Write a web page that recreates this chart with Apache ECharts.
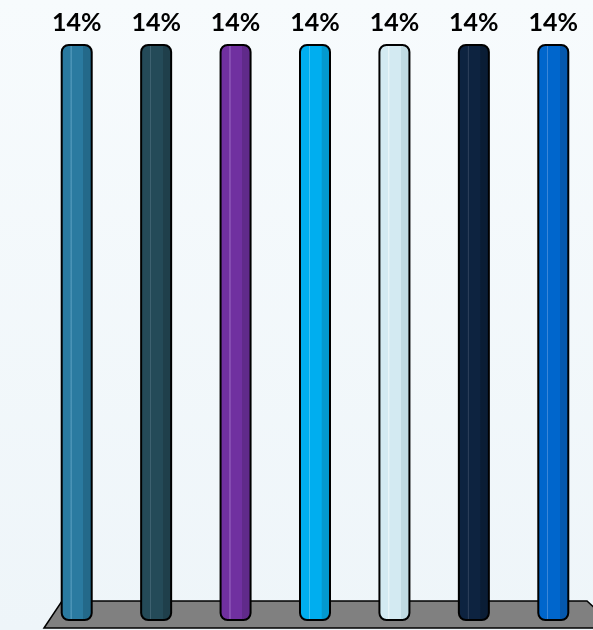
<!DOCTYPE html>
<html><head><meta charset="utf-8">
<script src="https://cdn.jsdelivr.net/npm/echarts@6/dist/echarts.min.js"></script>
<style>html,body{margin:0;padding:0;}#c{width:593px;height:630px;}</style>
</head><body><div id="c"></div>
<script>
const categories = ['A','B','C','D','E','F','G'];
const values = [14, 14, 14, 14, 14, 14, 14];
const labels = ['14%','14%','14%','14%','14%','14%','14%'];
const barColors = ['#2a7aa0','#244a58','#7030a0','#00aeef','#d3eaf2','#0d2340','#0066cc'];
const shadeColors = ['#23698a','#1f3f4b','#602a8a','#0399cf','#c0dbe3','#0a1d35','#0558ad'];
const lightColors = ['#4a93b6','#3e6170','#8850b4','#40c4f4','#e6f4f8','#2a3d58','#3a86d8'];

const chart = echarts.init(document.getElementById('c'));
const data = values.map((v, i) => ({
  value: v,
  itemStyle: {
    color: new echarts.graphic.LinearGradient(0, 0, 1, 0, [
      {offset: 0, color: barColors[i]},
      {offset: 0.30, color: barColors[i]},
      {offset: 0.31, color: lightColors[i]},
      {offset: 0.34, color: lightColors[i]},
      {offset: 0.35, color: barColors[i]},
      {offset: 0.70, color: barColors[i]},
      {offset: 0.71, color: shadeColors[i]},
      {offset: 1, color: shadeColors[i]}
    ])
  },
  label: {formatter: labels[i]}
}));

chart.setOption({
  backgroundColor: new echarts.graphic.LinearGradient(0, 0, 0, 1, [
    {offset: 0, color: '#f7fbfd'},
    {offset: 1, color: '#eef5f9'}
  ]),
  animation: false,
  graphic: [{
    type: 'polygon',
    z: 0,
    shape: {points: [[44, 628], [62, 601], [587, 601], [600, 613], [600, 628]]},
    style: {fill: '#808080', stroke: '#000', lineWidth: 1.5}
  }],
  grid: {left: 37, top: 44, width: 563, bottom: 9, containLabel: false},
  xAxis: {
    type: 'category', data: categories,
    axisLine: {show: false}, axisTick: {show: false}, axisLabel: {show: false}
  },
  yAxis: {
    type: 'value', min: 0, max: 14, show: false,
    splitLine: {show: false}
  },
  series: [{
    type: 'bar',
    data: data,
    barWidth: 32,
    z: 5,
    itemStyle: {borderColor: '#000', borderWidth: 2, borderRadius: [7, 7, 7, 7]},
    label: {
      show: true, position: 'top', distance: 9,
      fontFamily: 'Lato', fontWeight: 'bold', fontSize: 25, color: '#000'
    }
  }]
});
</script></body></html>
